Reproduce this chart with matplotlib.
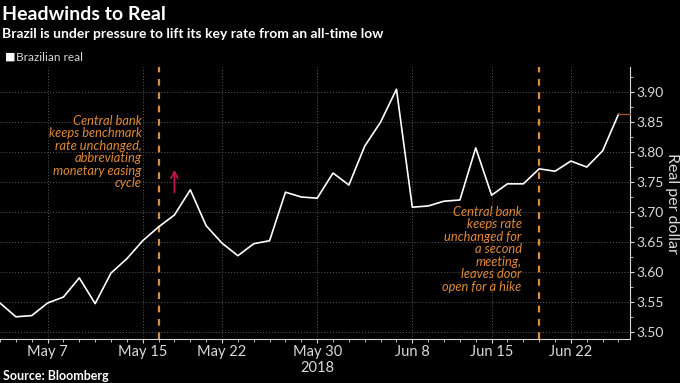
import matplotlib.pyplot as plt

# Brazilian real per dollar, one point per trading day (May 2 - Jun 27, 2018)
dates = ["May 2", "May 3", "May 4", "May 7", "May 8", "May 9", "May 10", "May 11",
         "May 14", "May 15", "May 16", "May 17", "May 18", "May 21", "May 22", "May 23",
         "May 24", "May 25", "May 28", "May 29", "May 30", "Jun 1", "Jun 4", "Jun 5",
         "Jun 6", "Jun 7", "Jun 8", "Jun 11", "Jun 12", "Jun 13", "Jun 14", "Jun 15",
         "Jun 18", "Jun 19", "Jun 20", "Jun 21", "Jun 22", "Jun 25", "Jun 26", "Jun 27"]
brl = [3.548, 3.525, 3.527, 3.548, 3.558, 3.590, 3.547, 3.598, 3.622, 3.652,
       3.675, 3.695, 3.737, 3.677, 3.648, 3.627, 3.647, 3.652, 3.733, 3.725,
       3.723, 3.765, 3.745, 3.810, 3.850, 3.905, 3.708, 3.710, 3.718, 3.720,
       3.807, 3.728, 3.747, 3.747, 3.772, 3.768, 3.785, 3.775, 3.802, 3.863]
tick_dates = ["May 7", "May 15", "May 22", "May 30", "Jun 8", "Jun 15", "Jun 22"]
tick_labels = ["May 7", "May 15", "May 22", "May 30\n2018", "Jun 8", "Jun 15", "Jun 22"]
yticks = [3.50, 3.55, 3.60, 3.65, 3.70, 3.75, 3.80, 3.85, 3.90]
meeting_dates = ["May 16", "Jun 20"]
note1 = "Central bank\nkeeps benchmark\nrate unchanged,\nabbreviating\nmonetary easing\ncycle"
note2 = "Central bank\nkeeps rate\nunchanged for\na second\nmeeting,\nleaves door\nopen for a hike"

plt.rcParams["font.family"] = ["Lato", "DejaVu Sans"]

bg = "black"
fg = "#d9d9d9"
orange = "#e08a3c"
grid_c = "#5a5a5a"

fig = plt.figure(figsize=(6.8, 3.83), dpi=100, facecolor=bg)
ax = fig.add_axes([0.0, 0.115, 0.927, 0.71], facecolor=bg)

x = list(range(len(brl)))
ax.plot(x, brl, color="white", lw=1.2, zorder=3)
xmax = 39.75
# last value marker line
ax.plot([x[-1], xmax], [brl[-1], brl[-1]], color="#a0522d", lw=1.0, zorder=3, clip_on=False)

for d in meeting_dates:
    ax.axvline(dates.index(d), color=orange, lw=1.6, ls=(0, (3, 3)), zorder=2)

ax.set_xlim(0, xmax)
ax.set_ylim(3.488, 3.942)

ax.set_xticks([dates.index(d) for d in tick_dates])
ax.set_xticklabels(tick_labels)
ax.set_xticks(x, minor=True)
ax.yaxis.tick_right()
ax.yaxis.set_label_position("right")
ax.set_yticks(yticks)
ax.set_yticklabels([f"{v:.2f}" for v in yticks])
ax.set_yticks([v + 0.025 for v in yticks[:-1]] + [3.925], minor=True)

ax.tick_params(axis="both", colors=fg, labelsize=10.5, length=3, width=0.8)
ax.tick_params(axis="y", labelsize=10, pad=1.5)
ax.tick_params(axis="both", which="minor", colors=fg, length=2, width=0.6)
ax.tick_params(axis="x", pad=1.5)
ax.grid(True, which="major", color=grid_c, ls=(0, (1, 2)), lw=0.7)

for s in ["top", "left"]:
    ax.spines[s].set_visible(False)
for s in ["right", "bottom"]:
    ax.spines[s].set_color(fg)
    ax.spines[s].set_linewidth(0.8)

ax.set_ylabel("Real per dollar", color=fg, fontsize=11.5, rotation=-90, labelpad=11)

ax.text(dates.index("May 15") - 0.05, 3.862, note1, color=orange, style="italic",
        fontsize=9.3, ha="right", va="top", linespacing=1.05)
ax.text(dates.index("Jun 19") - 0.1, 3.710, note2, color=orange, style="italic",
        fontsize=9.3, ha="right", va="top", linespacing=1.05)
ax.annotate("", xy=(11, 3.775), xytext=(11, 3.728),
            arrowprops=dict(arrowstyle="->", color="#c8174a", lw=1.2, mutation_scale=12))

fig.text(0.003, 0.963, "Headwinds to Real", color="white", fontsize=14,
         fontweight="bold", ha="left", va="center")
fig.text(0.003, 0.91, "Brazil is under pressure to lift its key rate from an all-time low",
         color="white", fontsize=10, fontweight="bold", ha="left", va="center")
fig.text(0.008, 0.851, "\u25a0", color="white", fontsize=8, ha="left", va="center",
         family="DejaVu Sans")
fig.text(0.024, 0.851, "Brazilian real", color=fg, fontsize=8.5, ha="left", va="center")
fig.text(0.004, 0.018, "Source: Bloomberg", color="white", fontsize=9,
         fontweight="bold", ha="left", va="center")

fig.savefig("out.png", dpi=100, facecolor=bg)
